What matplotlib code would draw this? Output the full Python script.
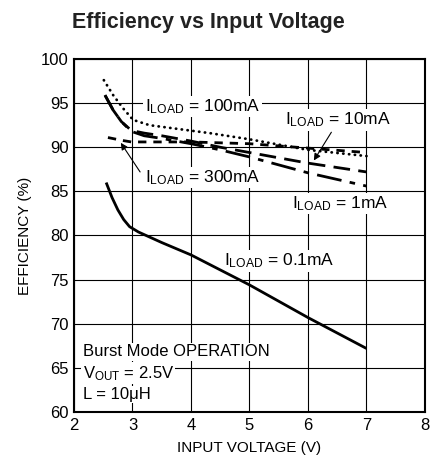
import matplotlib
matplotlib.use("Agg")
import matplotlib.pyplot as plt

# -----------------------------
# DATA
# -----------------------------
v_01ma = [2.55, 2.65, 2.75, 2.85, 2.95, 3.1, 3.5, 4.0, 5.0, 6.0, 7.0]
eff_01ma = [86.0, 84.3, 82.9, 81.8, 81.0, 80.4, 79.2, 77.8, 74.4, 70.7, 67.2]

v_1ma = [2.53, 2.67, 2.81, 2.98, 3.2, 3.5, 4.0, 4.5, 5.0, 6.0, 7.0]
eff_1ma = [95.9, 94.2, 92.9, 91.8, 91.3, 91.0, 90.4, 89.7, 88.9, 87.1, 85.6]

v_10ma = [2.53, 2.67, 2.81, 2.98, 3.2, 3.5, 4.0, 4.5, 5.0, 6.0, 7.0]
eff_10ma = [95.9, 94.2, 92.9, 91.9, 91.6, 91.3, 90.7, 90.0, 89.4, 88.2, 87.2]

v_100ma = [2.51, 2.67, 2.84, 3.01, 3.29, 3.86, 4.32, 5.0, 6.0, 7.0]
eff_100ma = [97.6, 95.9, 94.4, 93.1, 92.5, 92.0, 91.6, 90.9, 89.7, 89.0]

v_300ma = [2.58, 2.8, 2.98, 3.5, 4.0, 5.0, 6.0, 7.0]
eff_300ma = [91.1, 90.8, 90.6, 90.6, 90.6, 90.4, 89.9, 89.4]

x_ticks = [2, 3, 4, 5, 6, 7, 8]
y_ticks = [60, 65, 70, 75, 80, 85, 90, 95, 100]

# -----------------------------
# STYLE
# -----------------------------
FONT = ["Liberation Sans Narrow", "Liberation Sans", "DejaVu Sans"]
plt.rcParams["font.family"] = FONT
plt.rcParams["mathtext.fontset"] = "custom"
plt.rcParams["mathtext.rm"] = "Liberation Sans"
plt.rcParams["mathtext.it"] = "Liberation Sans"

fig = plt.figure(figsize=(4.31, 4.70), dpi=100)
ax = fig.add_axes([0.1717, 0.1234, 0.8143, 0.7511])

lw = 2.0
ax.plot(v_01ma, eff_01ma, color="black", lw=lw, solid_capstyle="butt", zorder=3)
ax.plot(v_1ma, eff_1ma, color="black", lw=lw, dashes=(9, 3, 2, 3), zorder=3)
ax.plot(v_10ma, eff_10ma, color="black", lw=lw, dashes=(6, 3), zorder=3)
ax.plot(v_100ma, eff_100ma, color="black", lw=lw, linestyle=(0, (0.1, 2.0)),
        dash_capstyle="round", zorder=3)
ax.plot(v_300ma, eff_300ma, color="black", lw=lw, dashes=(3, 2.5), zorder=3)

ax.set_xlim(2, 8)
ax.set_ylim(60, 100)
ax.set_xticks(x_ticks)
ax.set_yticks(y_ticks)
ax.tick_params(length=0, labelsize=12, pad=4)
ax.grid(True, color="black", lw=0.8)
ax.set_axisbelow(True)
for s in ax.spines.values():
    s.set_linewidth(1.5)

ax.set_xlabel("INPUT VOLTAGE (V)", fontsize=11, labelpad=6)
ax.set_ylabel("EFFICIENCY (%)", fontsize=11, labelpad=6)
fig.text(0.483, 0.952, "Efficiency vs Input Voltage", ha="center", va="center",
         fontsize=15.5, fontweight="bold", color="#222222")

# -----------------------------
# ANNOTATIONS
# -----------------------------
box = dict(facecolor="white", edgecolor="none", pad=1)
fs = 12.5
ax.text(3.21, 94.6, r"I$_{\mathrm{LOAD}}$ = 100mA", fontsize=fs, va="center", bbox=box, zorder=2)
ax.text(5.6, 93.1, r"I$_{\mathrm{LOAD}}$ = 10mA", fontsize=fs, va="center", bbox=box, zorder=2)
ax.text(3.21, 86.6, r"I$_{\mathrm{LOAD}}$ = 300mA", fontsize=fs, va="center", bbox=box, zorder=2)
ax.text(5.73, 83.6, r"I$_{\mathrm{LOAD}}$ = 1mA", fontsize=fs, va="center", bbox=box, zorder=2)
ax.text(4.57, 77.1, r"I$_{\mathrm{LOAD}}$ = 0.1mA", fontsize=fs, va="center", bbox=box, zorder=2)

ax.annotate("", xy=(6.1, 88.5), xytext=(6.4, 91.7),
            arrowprops=dict(arrowstyle="-|>", color="black", lw=0.8,
                            mutation_scale=10, shrinkA=0, shrinkB=0), zorder=4)
ax.annotate("", xy=(2.8, 90.5), xytext=(3.13, 87.2),
            arrowprops=dict(arrowstyle="-|>", color="black", lw=0.8,
                            mutation_scale=10, shrinkA=0, shrinkB=0), zorder=4)

ax.text(2.15, 66.8, "Burst Mode OPERATION", fontsize=12, va="center", bbox=box, zorder=2)
ax.text(2.15, 64.4, r"V$_{\mathrm{OUT}}$ = 2.5V", fontsize=12, va="center", bbox=box, zorder=2)
ax.text(2.15, 62.0, "L = 10μH", fontsize=12, va="center", bbox=box, zorder=2)

fig.savefig("out.png", dpi=100)
